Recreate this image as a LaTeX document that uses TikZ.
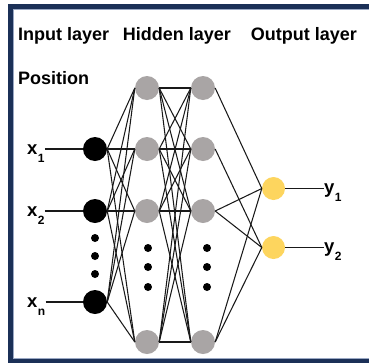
\documentclass[tikz,border=0pt]{standalone}
\usepackage{fontspec}
\setmainfont{Liberation Sans}

\definecolor{framenavy}{HTML}{1B3057}
\definecolor{framelight}{HTML}{9AA8C4}
\definecolor{hidgray}{HTML}{A9A5A5}
\definecolor{outyellow}{HTML}{FDD55E}

\tikzset{
  neuron/.style={circle, minimum size=24pt, inner sep=0pt},
  edge/.style={line width=1.05pt, black!90},
  heading/.style={anchor=base west, inner sep=0pt, font=\fontsize{18}{20}\selectfont\bfseries},
  varlabel/.style={anchor=base west, inner sep=0pt, font=\fontsize{18.5}{20}\selectfont\bfseries},
}
\newcommand{\lowsub}[1]{\kern0.5pt\raisebox{-8pt}{\fontsize{12}{12}\selectfont #1}}

\begin{document}
\begin{tikzpicture}[x=1pt, y=-1pt]

        \useasboundingbox (0,0) rectangle (369,362);

        % Frame
        \fill[white] (0,0) rectangle (369,362);
        \draw[framelight, line width=1pt] (13.3,9.3) rectangle (390,358.3);
        \draw[framenavy, line width=4.6pt] (10.5,6.5) rectangle (390,361);

        % Headings
        \node[heading] (hin) at (18,40.7) {Input layer};
        \node[heading] (hhid) at (122.7,40.7) {Hidden layer};
        \node[heading] (hout) at (250.7,40.7) {Output layer};
        \node[heading] (hpos) at (18,84) {Position};

        % Input layer
        \node[neuron, fill=black] (in1) at (95,149) {};
        \node[neuron, fill=black] (in2) at (95,211) {};
        \node[neuron, fill=black] (inn) at (95,302) {};
        \foreach \y in {238,256,274} \fill[black] (95,\y) circle (4pt);

        % Hidden layer 1
        \node[neuron, fill=hidgray] (ha1) at (147,88) {};
        \node[neuron, fill=hidgray] (ha2) at (147,149) {};
        \node[neuron, fill=hidgray] (ha3) at (147,211) {};
        \node[neuron, fill=hidgray] (ha4) at (147,342) {};
        \foreach \y in {248,267,287} \fill[black] (148,\y) circle (4pt);

        % Hidden layer 2
        \node[neuron, fill=hidgray] (hb1) at (203,88) {};
        \node[neuron, fill=hidgray] (hb2) at (203,149) {};
        \node[neuron, fill=hidgray] (hb3) at (203,211) {};
        \node[neuron, fill=hidgray] (hb4) at (203,342) {};
        \foreach \y in {248,267,287} \fill[black] (207,\y) circle (4pt);

        % Output layer
        \node[neuron, fill=outyellow, minimum size=23pt] (out1) at (273.5,188.5) {};
        \node[neuron, fill=outyellow, minimum size=23pt] (out2) at (273.5,247.5) {};

        % Connections
        \foreach \a in {in1,in2,inn}
          \foreach \b in {ha1,ha2,ha3,ha4}
            \draw[edge] (\a.east) -- (\b.west);
        \foreach \a in {ha1,ha2,ha3,ha4}
          \foreach \b in {hb1,hb2,hb3,hb4}
            \draw[edge] (\a.east) -- (\b.west);
        \foreach \a/\b in {hb1/out1, hb2/out2, hb3/out1, hb3/out2, hb4/out1, hb4/out2}
          \draw[edge] (\a.east) -- (\b.west);

        % Inputs
        \node[varlabel] (lx1) at (27,154.5) {x\lowsub{1}};
        \node[varlabel] (lx2) at (27,216.5) {x\lowsub{2}};
        \node[varlabel] (lxn) at (27,307.5) {x\lowsub{n}};
        \foreach \l/\n in {lx1/in1, lx2/in2, lxn/inn}
          \draw[edge] (\n.west -| \l.east) -- (\n.west);

        % Outputs
        \node[varlabel] (ly1) at (324,193.5) {y\lowsub{1}};
        \node[varlabel] (ly2) at (324,252.5) {y\lowsub{2}};
        \foreach \l/\n in {ly1/out1, ly2/out2}
          \draw[edge] (\n.east) -- (\n.east -| \l.west);

    \end{tikzpicture}
\end{document}
